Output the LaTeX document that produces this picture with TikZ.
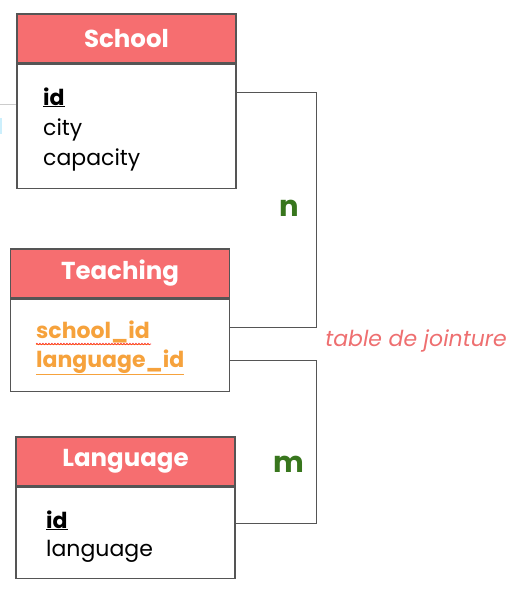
\documentclass[tikz,border=0pt]{standalone}
\usepackage{fontspec}
\setmainfont{Poppins}
\usetikzlibrary{decorations.pathmorphing}
\definecolor{entete}{HTML}{F66E70}
\definecolor{trait}{HTML}{555555}
\definecolor{vert}{HTML}{38761D}
\definecolor{cle}{HTML}{F6A23C}
\definecolor{note}{HTML}{EE6F70}
\tikzset{
	titre/.style={draw=trait,fill=entete,text=white,line width=1.2pt,inner sep=0pt,
		minimum width=219pt,minimum height=49pt,font=\fontsize{24.5}{28}\selectfont\bfseries},
	corps/.style={draw=trait,fill=white,line width=1.2pt,minimum width=219pt,anchor=north},
	champ/.style={anchor=base west,inner sep=0pt,font=\fontsize{22}{26}\selectfont},
	lien/.style={draw=trait,line width=1pt},
	card/.style={text=vert,font=\fontsize{29}{32}\selectfont\bfseries}
}
\begin{document}
\begin{tikzpicture}[x=1pt,y=-1pt]
			\useasboundingbox (0,0) rectangle (516,589);
			\draw[black!20,line width=1pt] (0,104)--(17,104);
			\draw[cyan!20,line width=2pt] (1,118)--(1,134);
			% School
			\node[titre] (school) at (126.5,38.5) {School};
			\node[corps,minimum height=124pt] (school-b) at (school.south) {};
			\node[champ] (sc-id) at (43,105) {\underline{\textbf{id}}};
			\node[champ] (sc-city) at (43,135) {city};
			\node[champ] (sc-cap) at (43,165) {capacity};
			% Teaching
			\node[titre] (teaching) at (120,273.5) {Teaching};
			\node[corps,minimum height=92pt] (teaching-b) at (teaching.south) {};
			\node[champ,text=cle] (te-sid) at (36,338) {\underline{\textbf{school\_id}}};
			\node[champ,text=cle] (te-lid) at (36,367) {\underline{\textbf{language\_id}}};
			\draw[red!80,line width=0.6pt,decorate,decoration={snake,amplitude=0.8pt,segment length=3pt}] (te-sid.base west)++(0,6)--++(115,0);
			% Language
			\node[titre] (language) at (125.5,461.5) {Language};
			\node[corps,minimum height=91pt] (language-b) at (language.south) {};
			\node[champ] (la-id) at (46,528) {\underline{\textbf{id}}};
			\node[champ] (la-lang) at (46,556) {language};
			% liens
			\draw[lien] ([yshift=34pt]school-b.east)--++(80,0)|-([yshift=18pt]teaching-b.east);
			\draw[lien] ([yshift=-15pt]teaching-b.east)--++(86,0)|-([yshift=9.5pt]language-b.east);
			\node[card] (n) at (289,208) {n};
			\node[card] (m) at (289,464) {m};
			\node[text=note,font=\fontsize{22}{26}\selectfont\itshape] (jointure) at (416,341) {table de jointure};
		\end{tikzpicture}
\end{document}
